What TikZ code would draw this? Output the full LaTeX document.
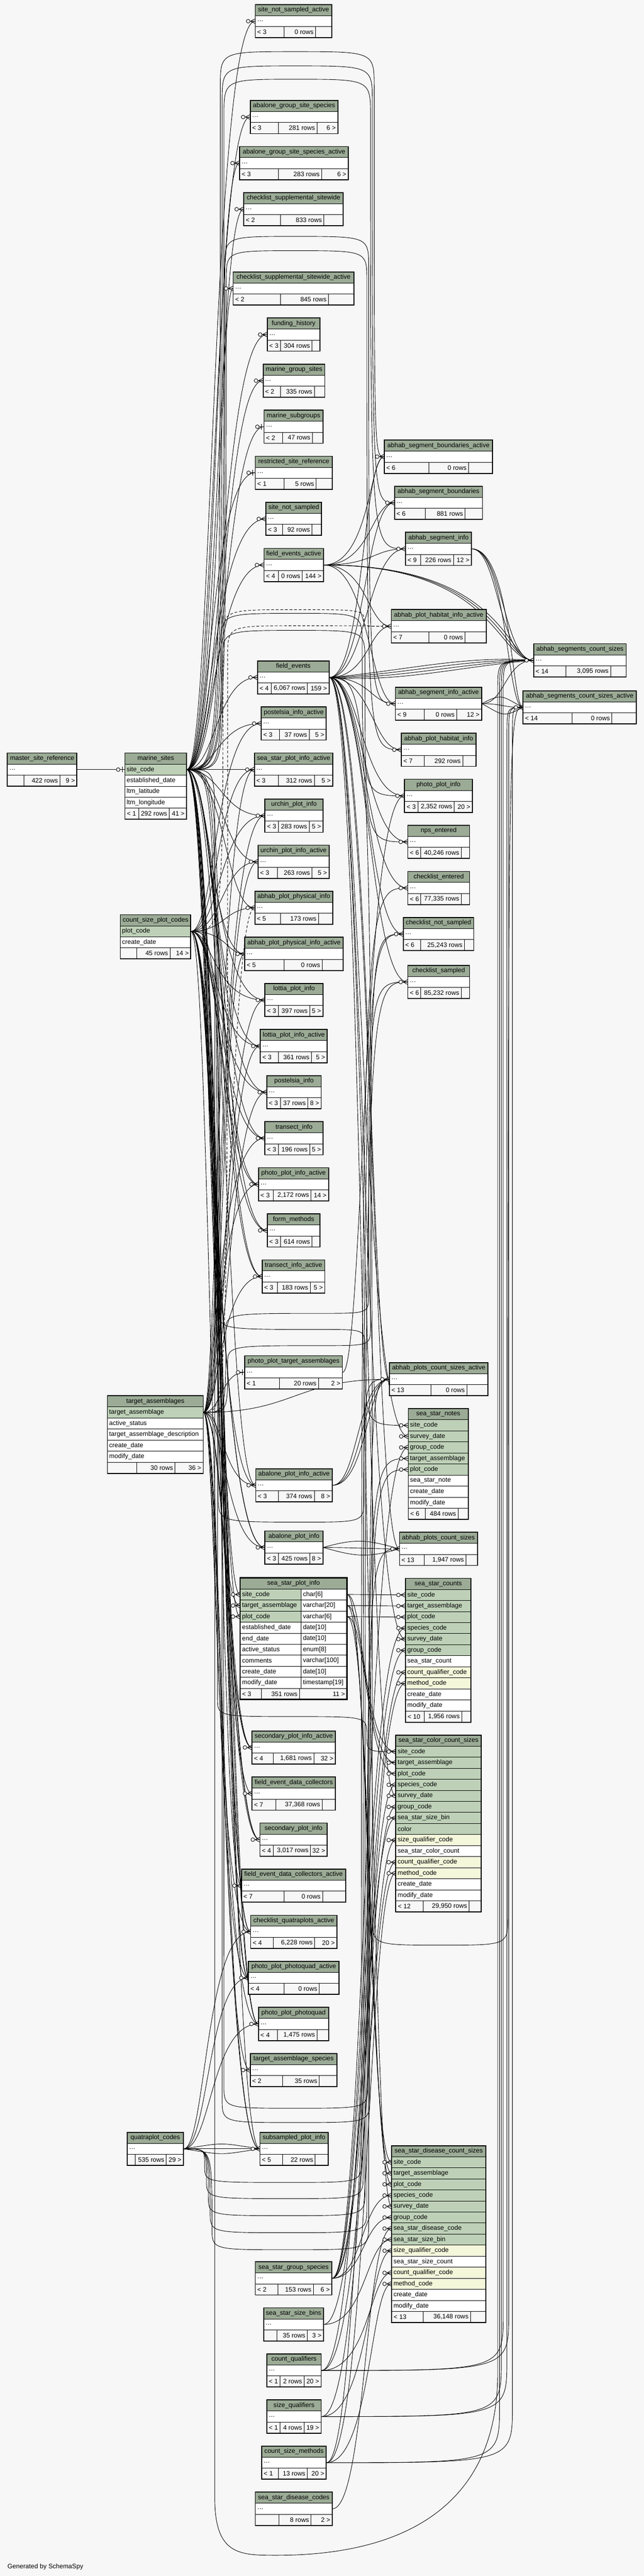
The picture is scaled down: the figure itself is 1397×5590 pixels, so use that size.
\documentclass[tikz,border=0pt]{standalone}
\usepackage{fontspec}
\setmainfont{Liberation Sans}
\usetikzlibrary{calc}
\pgfdeclarelayer{edges}
\pgfsetlayers{edges,main}

\definecolor{pagebg}{HTML}{F7F7F7}
\definecolor{headcol}{HTML}{9BAB96}
\definecolor{keycol}{HTML}{BED1B8}
\definecolor{idxcol}{HTML}{F4F7DA}

\tikzset{
  fk/.style={line width=0.5pt},
  fkdash/.style={fk, dash pattern=on 3pt off 2pt},
  cellline/.style={draw, line width=0.5pt},
  cellbox/.style={draw, line width=0.5pt, inner sep=0pt, minimum height=12pt},
  txt/.style={font=\fontsize{7}{8}\selectfont, inner sep=1pt},
  crow/.pic={\draw[fk] (-10,0) -- (0,-5) (-10,0) -- (0,0) (-10,0) -- (0,5);
    \draw[fk, fill=pagebg] (-15,0) circle (4);},
  zbar/.pic={\draw[fk] (-5,-6) -- (-5,6) (-11,0) -- (0,0);
    \draw[fk, fill=pagebg] (-14,0) circle (4);}
}

\newcommand\dbtable[6]{%
  \draw[cellline, fill=headcol] (#2,#4) rectangle (#3,#4+24);
  \node[txt] at ({(#2+#3)/2},#4+12) {#5};
  \foreach \rn/\rc [count=\ri] in {#6}{
    \node[cellbox, fill=\rc, minimum width={(#3-#2)*0.5pt}] (#1-\ri) at ({(#2+#3)/2},#4+12+24*\ri) {};
    \node[txt, anchor=west, xshift=1pt] at (#1-\ri.west) {\rn};
  }}
\newcommand\dbfoot[8]{%
  \draw[cellline, fill=pagebg] (#1,#3) rectangle (#4,#3+24) (#4,#3) rectangle (#5,#3+24) (#5,#3) rectangle (#2,#3+24);
  \node[txt, anchor=west] at (#1+2,#3+12) {#6};
  \node[txt, anchor=east] at (#5-2,#3+12) {#7};
  \node[txt, anchor=east] at (#2-2,#3+12) {#8};}
\newcommand\fklink[4][fk]{\draw[#1] (#2.east) .. controls (#4,0 |- #2.east) and (#4,0 |- #3.west) .. (#3.west);}
\newcommand\fkvia[8][fk]{\draw[#1] (#2.east) .. controls (#4,0 |- #2.east) and (#4,0 |- #2.east) .. (#4,#5) .. controls (#4,0 |- #6) .. (#6) .. controls (#7,0 |- #6) .. (#7,#8) .. controls (#7,0 |- #3.west) and (#7,0 |- #3.west) .. (#3.west);}
\newcommand\fkfar[6][fk]{\draw[#1] (#2.east) .. controls (#4,0 |- #2.east) and (#4,0 |- #2.east) .. (#4,#5) -- (#4,#6) .. controls (#4,0 |- #3.west) and (#4,0 |- #3.west) .. (#3.west);}

\begin{document}
\begin{tikzpicture}[x=0.5pt, y=-0.5pt]
\useasboundingbox (0,0) rectangle (1397,5590);

\foreach \id/\xa/\xb/\yt/\ttl/\da/\db/\fa/\fb/\fc in {
snsa/554/720/10/site\_not\_sampled\_active/617/685/{< 3}/{0 rows}/{},
agss/543/733/218/abalone\_group\_site\_species/604/688/{< 3}/{281 rows}/{6 >},
agssa/520/756/318/abalone\_group\_site\_species\_active/604/698/{< 3}/{283 rows}/{6 >},
css/529/745/418/checklist\_supplemental\_sitewide/609/703/{< 2}/{833 rows}/{},
cssa/506/768/590/checklist\_supplemental\_sitewide\_active/609/713/{< 2}/{845 rows}/{},
fh/580/694/690/funding\_history/609/677/{< 3}/{304 rows}/{},
mgs/571/705/790/marine\_group\_sites/609/682/{< 2}/{335 rows}/{},
msub/573/701/890/marine\_subgroups/613/678/{< 2}/{47 rows}/{},
rsr/554/721/990/restricted\_site\_reference/617/686/{< 1}/{5 rows}/{},
sns/577/698/1090/site\_not\_sampled/613/677/{< 3}/{92 rows}/{},
fea/573/702/1190/field\_events\_active/604/656/{< 4}/{0 rows}/{144 >},
absba/834/1069/955/abhab\_segment\_boundaries\_active/931/1017/{< 6}/{0 rows}/{},
absb/856/1047/1055/abhab\_segment\_boundaries/923/1009/{< 6}/{881 rows}/{},
absi/880/1023/1155/abhab\_segment\_info/913/984/{< 9}/{226 rows}/{12 >},
aphia/849/1055/1323/abhab\_plot\_habitat\_info\_active/931/1009/{< 7}/{0 rows}/{},
ascs/1158/1359/1397/abhab\_segments\_count\_sizes/1228/1325/{< 14}/{3,095 rows}/{},
fe/559/714/1434/field\_events/589/667/{< 4}/{6,067 rows}/{159 >},
absia/858/1045/1491/abhab\_segment\_info\_active/921/991/{< 9}/{0 rows}/{12 >},
ascsa/1135/1381/1499/abhab\_segments\_count\_sizes\_active/1241/1328/{< 14}/{0 rows}/{},
pia/567/708/1534/postelsia\_info\_active/606/671/{< 3}/{37 rows}/{5 >},
aphi/871/1033/1591/abhab\_plot\_habitat\_info/921/1004/{< 7}/{292 rows}/{},
msr/16/167/1634/master\_site\_reference/52/130/{}/{422 rows}/{9 >},
sspia/552/722/1634/sea\_star\_plot\_info\_active/604/682/{< 3}/{312 rows}/{5 >},
ppi/878/1025/1691/photo\_plot\_info/907/986/{< 3}/{2,352 rows}/{20 >},
upi/575/701/1734/urchin\_plot\_info/604/671/{< 3}/{283 rows}/{5 >},
npse/885/1019/1791/nps\_entered/913/1001/{< 6}/{40,246 rows}/{},
upia/560/714/1834/urchin\_plot\_info\_active/602/677/{< 3}/{263 rows}/{5 >},
cke/885/1019/1891/checklist\_entered/913/1001/{< 6}/{77,335 rows}/{},
appi/553/722/1934/abhab\_plot\_physical\_info/609/691/{< 5}/{173 rows}/{},
ckns/875/1028/1991/checklist\_not\_sampled/913/1008/{< 6}/{25,243 rows}/{},
appia/531/745/2034/abhab\_plot\_physical\_info\_active/617/699/{< 5}/{0 rows}/{},
cks/885/1019/2095/checklist\_sampled/913/1001/{< 6}/{85,232 rows}/{},
lpi/575/701/2134/lottia\_plot\_info/604/672/{< 3}/{397 rows}/{5 >},
lpia/565/710/2234/lottia\_plot\_info\_active/604/676/{< 3}/{361 rows}/{5 >},
pi/579/697/2334/postelsia\_info/609/668/{< 3}/{37 rows}/{8 >},
ti/575/701/2434/transect\_info/604/672/{< 3}/{196 rows}/{5 >},
ppia/561/713/2534/photo\_plot\_info\_active/593/675/{< 3}/{2,172 rows}/{14 >},
fm/580/694/2634/form\_methods/609/677/{< 3}/{614 rows}/{},
tia/569/705/2734/transect\_info\_active/602/673/{< 3}/{183 rows}/{5 >},
ppta/531/743/2942/photo\_plot\_target\_assemblages/607/691/{< 1}/{20 rows}/{2 >},
apcsa/845/1059/2957/abhab\_plots\_count\_sizes\_active/935/1013/{< 13}/{0 rows}/{},
apia/555/721/3187/abalone\_plot\_info\_active/604/682/{< 3}/{374 rows}/{8 >},
api/575/701/3322/abalone\_plot\_info/604/672/{< 3}/{425 rows}/{8 >},
apcs/867/1036/3325/abhab\_plots\_count\_sizes/921/1011/{< 13}/{1,947 rows}/{},
spia/547/728/3756/secondary\_plot\_info\_active/593/681/{< 4}/{1,681 rows}/{32 >},
fedc/547/728/3856/field\_event\_data\_collectors/599/699/{< 7}/{37,368 rows}/{},
spi/564/710/3956/secondary\_plot\_info/593/674/{< 4}/{3,017 rows}/{32 >},
fedca/524/750/4056/field\_event\_data\_collectors\_active/617/700/{< 7}/{0 rows}/{},
cqa/544/731/4156/checklist\_quatraplots\_active/593/683/{< 4}/{6,228 rows}/{20 >},
pppa/539/736/4256/photo\_plot\_photoquad\_active/617/693/{< 4}/{0 rows}/{},
ppp/561/713/4356/photo\_plot\_photoquad/602/688/{< 4}/{1,475 rows}/{},
tas/543/731/4456/target\_assemblage\_species/613/693/{< 2}/{35 rows}/{},
qc/276/398/4627/quatraplot\_codes/293/361/{}/{535 rows}/{29 >},
subpi/564/712/4627/subsampled\_plot\_info/613/684/{< 5}/{22 rows}/{},
ssgs/554/720/4908/sea\_star\_group\_species/603/680/{< 2}/{153 rows}/{6 >},
sssb/572/702/5008/sea\_star\_size\_bins/601/667/{}/{35 rows}/{3 >},
cq/579/697/5108/count\_qualifiers/608/660/{< 1}/{2 rows}/{20 >},
sq/579/697/5208/size\_qualifiers/608/660/{< 1}/{4 rows}/{19 >},
csm/568/708/5308/count\_size\_methods/604/667/{< 1}/{13 rows}/{20 >},
ssdcodes/554/721/5408/sea\_star\_disease\_codes/605/675/{}/{8 rows}/{2 >}}{
  \dbtable{\id}{\xa}{\xb}{\yt}{\ttl}{\ldots/white}
  \dbfoot{\xa}{\xb}{\yt+48}{\da}{\db}{\fa}{\fb}{\fc}
  \draw[line width=1pt] (\xa,\yt) rectangle (\xb,\yt+72);
}

\dbtable{ms}{271}{405}{1634}{marine\_sites}{site\_code/keycol, established\_date/white, ltm\_latitude/white, ltm\_longitude/white}
\dbfoot{271}{405}{1754}{301}{367}{< 1}{292 rows}{41 >}
\dbtable{cspc}{261}{414}{1985}{count\_size\_plot\_codes}{plot\_code/keycol, create\_date/white}
\dbfoot{261}{414}{2057}{297}{369}{}{45 rows}{14 >}
\dbtable{ta}{233}{441}{3029}{target\_assemblages}{target\_assemblage/keycol, active\_status/white, target\_assemblage\_description/white, create\_date/white, modify\_date/white}
\dbfoot{233}{441}{3173}{297}{380}{}{30 rows}{36 >}
\dbtable{ssn}{886}{1016}{3057}{sea\_star\_notes}{site\_code/keycol, survey\_date/keycol, group\_code/keycol, target\_assemblage/keycol, plot\_code/keycol, sea\_star\_note/white, create\_date/white, modify\_date/white}
\dbfoot{886}{1016}{3273}{923}{994}{< 6}{484 rows}{}
\dbtable{ssc}{880}{1022}{3425}{sea\_star\_counts}{site\_code/keycol, target\_assemblage/keycol, plot\_code/keycol, species\_code/keycol, survey\_date/keycol, group\_code/keycol, sea\_star\_count/white, count\_qualifier\_code/idxcol, method\_code/idxcol, create\_date/white, modify\_date/white}
\dbfoot{880}{1022}{3713}{921}{1002}{< 10}{1,956 rows}{}
\dbtable{sscc}{859}{1044}{3765}{sea\_star\_color\_count\_sizes}{site\_code/keycol, target\_assemblage/keycol, plot\_code/keycol, species\_code/keycol, survey\_date/keycol, group\_code/keycol, sea\_star\_size\_bin/keycol, color/keycol, size\_qualifier\_code/idxcol, sea\_star\_color\_count/white, count\_qualifier\_code/idxcol, method\_code/idxcol, create\_date/white, modify\_date/white}
\dbfoot{859}{1044}{4125}{918}{1018}{< 12}{29,950 rows}{}
\dbtable{ssdc}{850}{1054}{4656}{sea\_star\_disease\_count\_sizes}{site\_code/keycol, target\_assemblage/keycol, plot\_code/keycol, species\_code/keycol, survey\_date/keycol, group\_code/keycol, sea\_star\_disease\_code/keycol, sea\_star\_size\_bin/keycol, size\_qualifier\_code/idxcol, sea\_star\_size\_count/white, count\_qualifier\_code/idxcol, method\_code/idxcol, create\_date/white, modify\_date/white}
\dbfoot{850}{1054}{5016}{918}{1021}{< 13}{36,148 rows}{}
\foreach \xa/\ya/\xb/\yb in {271/1634/405/1778, 261/1985/414/2081, 233/3029/441/3197, 886/3057/1016/3297, 880/3425/1022/3737, 859/3765/1044/4149, 850/4656/1054/5040}
  \draw[line width=1pt] (\xa,\ya) rectangle (\xb,\yb);

\draw[cellline, fill=headcol] (521,3424) rectangle (753,3448);
\node[txt] at (637,3436) {sea\_star\_plot\_info};
\foreach \rn/\rt/\rc [count=\ri] in {site\_code/char[6]/keycol, target\_assemblage/varchar[20]/keycol, plot\_code/varchar[6]/keycol, established\_date/date[10]/white, end\_date/date[10]/white, active\_status/enum[8]/white, comments/varchar[100]/white, create\_date/date[10]/white, modify\_date/timestamp[19]/white}{
  \draw[cellline, fill=\rc] (521,3424+24*\ri) rectangle (653,3448+24*\ri);
  \draw[cellline, fill=white] (653,3424+24*\ri) rectangle (753,3448+24*\ri);
  \node[txt, anchor=west] at (523,3436+24*\ri) {\rn};
  \node[txt, anchor=west] at (655,3436+24*\ri) {\rt};
  \node[inner sep=0pt, minimum width=116pt, minimum height=12pt] (sspi-\ri) at (637,3436+24*\ri) {};
}
\dbfoot{521}{753}{3664}{567}{650}{< 3}{351 rows}{11 >}
\draw[line width=1.5pt] (521,3424) rectangle (753,3688);

\node[txt, anchor=west] (gen) at (14,5570) {Generated by SchemaSpy};

\coordinate (v1) at (640,112);
\coordinate (v2) at (640,143);
\coordinate (v3) at (640,172);
\coordinate (v4) at (640,513);
\coordinate (v5) at (640,544);
\coordinate (v6) at (641,1323);
\coordinate (v7) at (641,1358);
\coordinate (v8) at (645,1331);
\coordinate (v9) at (645,1368);
\coordinate (v10) at (700,2850);
\coordinate (v11) at (700,2885);
\coordinate (v12) at (700,2920);
\coordinate (v13) at (660,3303);
\coordinate (v14) at (641,3725);
\coordinate (v15) at (640,4575);
\coordinate (v16) at (640,4606);
\coordinate (v17) at (624,4736);
\coordinate (v18) at (624,4771);
\coordinate (v19) at (624,4808);
\coordinate (v20) at (624,4845);
\coordinate (v21) at (624,4882);
\coordinate (v22) at (958,4221);

\begin{pgfonlayer}{edges}
\fill[pagebg] (0,0) rectangle (1397,5590);
\fklink{msr-1}{ms-1}{220}
\foreach \cn [count=\kk] in {snsa,agss,agssa,css,cssa,fh,mgs,msub,rsr,sns,fea,fe,pia,sspia,upi,upia,appi,appia,lpi,lpia,pi,ti,ppia,fm,tia,apia,api,spia,fedc,spi,fedca,cqa,pppa,ppp,subpi}{
  \pgfmathsetmacro\chx{456+mod(\kk,9)*4}
  \fklink{ms-1}{\cn-1}{\chx}}
\fklink{ms-1}{sspi-1}{470}
\foreach \cn [count=\kk] in {pia,sspia,upi,upia,appi,appia,lpi,lpia,pi,ti,ppia,fm,tia,apia,api,spia,spi,cqa,pppa,ppp,subpi}{
  \pgfmathsetmacro\chx{462+mod(\kk,7)*5}
  \fklink{cspc-1}{\cn-1}{\chx}}
\fklink{cspc-1}{sspi-3}{476}
\foreach \cn [count=\kk] in {sspia,upi,upia,appia,lpi,lpia,pi,ti,ppia,tia,ppta,apia,api,spia,spi,cqa,pppa,ppp,tas,subpi}{
  \pgfmathsetmacro\chx{468+mod(\kk,8)*4}
  \fklink{ta-1}{\cn-1}{\chx}}
\fklink{ta-1}{sspi-2}{480}
\fklink[fkdash]{ta-1}{appi-1}{500}
\fklink{ta-1}{apcsa-1}{640}
\foreach \cn/\chx in {cqa/446,pppa/452,ppp/458,subpi/470}{\fklink{qc-1}{\cn-1}{\chx}}
\foreach \dd in {-14,14}{\draw[fk] (qc-1.east) .. controls +(90,\dd) and +(-90,\dd) .. (subpi-1.west);}

\foreach \cn [count=\kk] in {absba-1,absb-1,absi-1,aphia-1,absia-1,aphi-1,ppi-1,npse-1,cke-1,ckns-1,cks-1,apcsa-1,apcs-1,ssn-2,ssc-5,sscc-5,ssdc-5}{
  \pgfmathsetmacro\chx{784+mod(\kk,7)*4}
  \fklink{fe-1}{\cn}{\chx}}
\foreach \cn [count=\kk] in {absba,absb,absi,aphia,absia}{
  \pgfmathsetmacro\chx{798+mod(\kk,4)*4}
  \fklink{fea-1}{\cn-1}{\chx}}
\foreach \chx in {1078,1088,1098}{\fklink{fea-1}{ascs-1}{\chx}}
\foreach \dd in {-12,-4,4,12}{\draw[fk] (fe-1.east) .. controls +(150,\dd) and +(-150,\dd) .. (ascs-1.west);}
\foreach \chx in {1082,1092}{\fklink{absi-1}{ascs-1}{\chx}}
\foreach \chx in {1100,1110}{\fklink{absi-1}{ascsa-1}{\chx}}
\fklink{absia-1}{ascs-1}{1096}
\foreach \dd in {-24,0,24}{\draw[fk] (absia-1.east) .. controls +(45,\dd) and +(-45,\dd) .. (ascsa-1.west);}
\foreach \chx in {776,786,796}{\fklink{apia-1}{apcsa-1}{\chx}}
\foreach \dd in {-20,0,20}{\draw[fk] (api-1.east) .. controls +(70,\dd) and +(-70,\dd) .. (apcs-1.west);}
\fklink{ppta-1}{ppi-1}{788}

\foreach \kk in {1,2,3}{
  \fklink{sspi-\kk}{ssc-\kk}{816}
  \pgfmathsetmacro\chx{786+\kk*3}
  \fklink{sspi-\kk}{sscc-\kk}{\chx}
  \pgfmathsetmacro\chx{796+\kk*3}
  \fklink{sspi-\kk}{ssdc-\kk}{\chx}}
\foreach \cn [count=\kk] in {ssc-4,ssc-6,sscc-4,sscc-6,ssdc-4,ssdc-6,ssn-3}{
  \pgfmathsetmacro\chx{786+mod(\kk,5)*3}
  \fklink{ssgs-1}{\cn}{\chx}}
\fklink{sssb-1}{sscc-7}{790}
\fklink{sssb-1}{ssdc-8}{794}
\fklink{cq-1}{ssc-8}{792}
\fklink{cq-1}{sscc-11}{797}
\fklink{cq-1}{ssdc-11}{802}
\fklink{sq-1}{sscc-9}{795}
\fklink{sq-1}{ssdc-9}{800}
\fklink{csm-1}{ssc-9}{790}
\fklink{csm-1}{sscc-12}{798}
\fklink{csm-1}{ssdc-12}{804}
\fklink{ssdcodes-1}{ssdc-7}{793}

\fkfar{cq-1}{ascs-1}{1092}{5020}{1500}
\fkfar{cq-1}{ascsa-1}{1104}{5020}{1600}
\fkfar{sq-1}{ascs-1}{1088}{5120}{1500}
\fkfar{sq-1}{ascsa-1}{1100}{5120}{1600}
\fkfar{csm-1}{ascs-1}{1084}{5220}{1500}
\fkfar{csm-1}{ascsa-1}{1112}{5220}{1600}
\draw[fk] (ms-1.east) .. controls (466,0 |- ms-1.east) and (466,0 |- ms-1.east) .. (466,1800) -- (466,5420) .. controls (466,5545) and (520,5545) .. (600,5545) .. controls (900,5545) and (1080,5420) .. (1080,5150) -- (1080,1500) .. controls (1080,0 |- ascs-1.west) and (1080,0 |- ascs-1.west) .. (ascs-1.west);

\fkvia{ms-1}{absba-1}{478}{190}{v1}{812}{190}
\fkvia{ms-1}{absb-1}{482}{222}{v2}{808}{222}
\fkvia{ms-1}{absi-1}{486}{252}{v3}{804}{252}
\fkvia{ms-1}{absia-1}{488}{580}{v4}{800}{580}
\fkvia{ms-1}{aphi-1}{491}{608}{v5}{796}{608}
\fkvia[fkdash]{cspc-1}{aphia-1}{484}{1390}{v6}{790}{1350}
\fkvia[fkdash]{ta-1}{aphia-1}{494}{1425}{v7}{800}{1359}
\fkvia{ms-1}{ppi-1}{480}{1400}{v8}{786}{1400}
\fkvia{ms-1}{npse-1}{483}{1435}{v9}{792}{1435}
\fkvia{ta-1}{cks-1}{490}{2890}{v10}{800}{2810}
\fkvia{ms-1}{ssn-1}{476}{2845}{v11}{792}{2925}
\fkvia{ta-1}{ckns-1}{494}{2960}{v12}{804}{2880}
\fkvia{ms-1}{apcsa-1}{474}{3250}{v13}{790}{3250}
\fkvia{ms-1}{sscc-1}{472}{3685}{v14}{796}{3765}
\fkvia{ta-1}{ssn-4}{486}{4525}{v15}{798}{4525}
\fkvia{cspc-1}{ssn-5}{482}{4555}{v16}{802}{4555}
\fkvia{qc-1}{cke-1}{444}{4700}{v17}{784}{4690}
\fkvia{qc-1}{ckns-1}{448}{4730}{v18}{788}{4720}
\fkvia{qc-1}{cks-1}{452}{4765}{v19}{792}{4755}
\fkvia{qc-1}{apcs-1}{456}{4800}{v20}{796}{4790}
\fkvia{qc-1}{apcsa-1}{460}{4835}{v21}{800}{4825}
\fkvia{fe-1}{ascsa-1}{808}{4160}{v22}{1102}{4160}
\end{pgfonlayer}

\foreach \cn in {snsa-1,agss-1,agssa-1,css-1,cssa-1,fh-1,mgs-1,sns-1,fea-1,fe-1,pia-1,sspia-1,upi-1,upia-1,appi-1,appia-1,lpi-1,lpia-1,pi-1,ti-1,ppia-1,fm-1,tia-1,apia-1,api-1,sspi-1,sspi-2,sspi-3,spia-1,fedc-1,spi-1,fedca-1,cqa-1,pppa-1,ppp-1,tas-1,subpi-1,absba-1,absb-1,absi-1,aphia-1,absia-1,aphi-1,ppi-1,npse-1,cke-1,ckns-1,cks-1,apcsa-1,apcs-1,ssn-1,ssn-2,ssn-3,ssn-4,ssn-5,ssc-1,ssc-2,ssc-3,ssc-4,ssc-5,ssc-6,ssc-8,ssc-9,sscc-1,sscc-2,sscc-3,sscc-4,sscc-5,sscc-6,sscc-7,sscc-9,sscc-11,sscc-12,ssdc-1,ssdc-2,ssdc-3,ssdc-4,ssdc-5,ssdc-6,ssdc-7,ssdc-8,ssdc-9,ssdc-11,ssdc-12,ascs-1,ascsa-1}
  \pic at (\cn.west) {crow};
\foreach \cn in {ms-1,msub-1,rsr-1,ppta-1}
  \pic at (\cn.west) {zbar};

\end{tikzpicture}
\end{document}
